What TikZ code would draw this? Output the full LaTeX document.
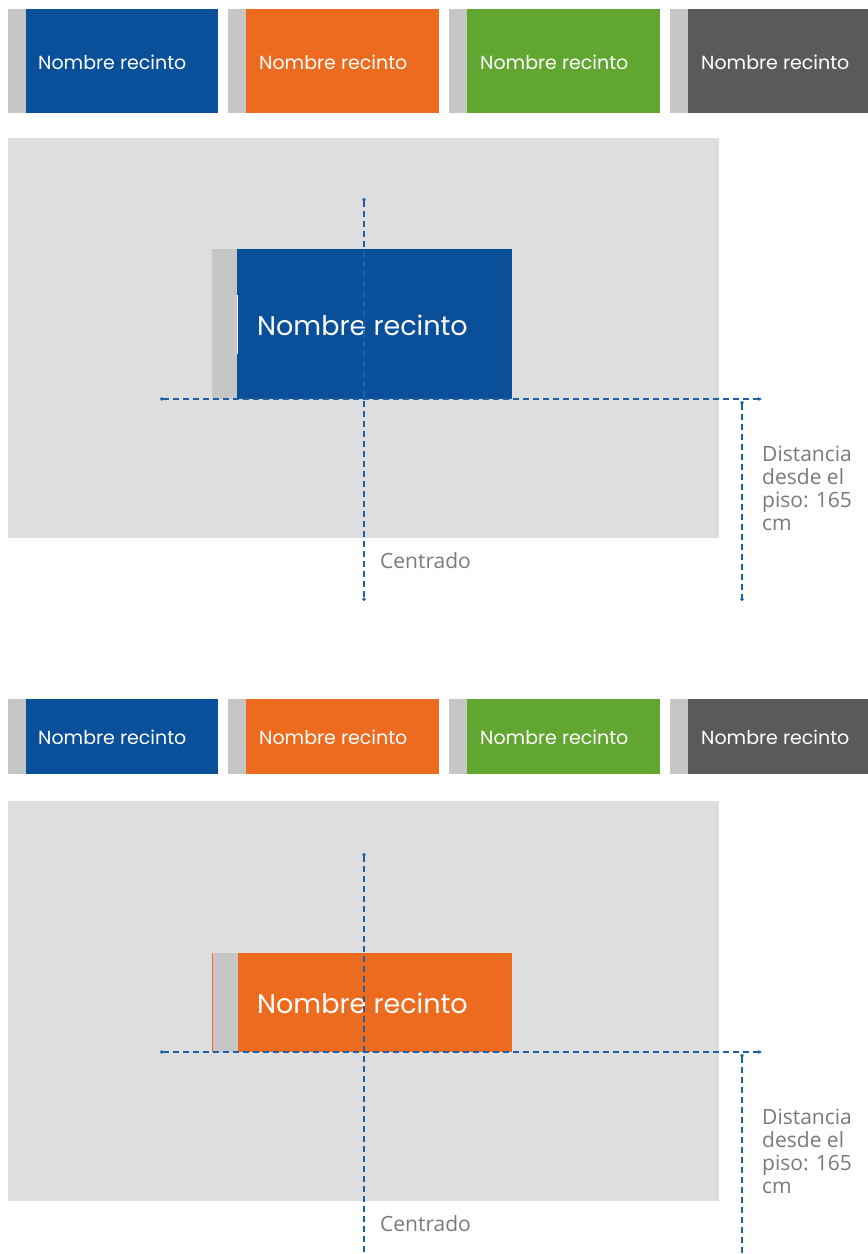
\documentclass[tikz,border=0pt]{standalone}
\usepackage{fontspec}
\setmainfont{Open Sans}
\newfontfamily\signfont{Poppins}
\usetikzlibrary{arrows.meta}
\definecolor{sblue}{HTML}{0A4F9A}
\definecolor{sorange}{HTML}{EC6B1F}
\definecolor{sgreen}{HTML}{62A632}
\definecolor{sdark}{HTML}{5A5A59}
\definecolor{stripgray}{HTML}{C6C6C6}
\definecolor{panelgray}{HTML}{DEDEDE}
\definecolor{guideblue}{HTML}{1F5FA8}
\definecolor{notegray}{HTML}{7A7A7A}
\tikzset{
  box/.style={draw=none, inner sep=0pt, outer sep=0pt, anchor=north west},
  strip/.style={box, fill=stripgray, minimum width=18pt},
  panel/.style={box, fill=panelgray, minimum width=711pt, minimum height=400pt},
  smalltext/.style={text=white, inner sep=0pt, anchor=west, font=\signfont\fontsize{19}{20}\selectfont},
  bigtext/.style={text=white, inner sep=0pt, anchor=west, font=\signfont\fontsize{27}{28}\selectfont},
  guide/.style={draw=guideblue, line width=1.1pt, dash pattern=on 6pt off 4pt},
  note/.style={text=notegray, inner sep=0pt, anchor=base west, align=left, font=\fontsize{21}{22.7}\selectfont},
}
\begin{document}
\begin{tikzpicture}[x=1pt,y=-1pt]
\useasboundingbox (0,0) rectangle (868,1254);
\fill[white] (0,0) rectangle (868,1254);

% ---------- top row 1 ----------
\node[strip, minimum height=104pt] (s1a) at (8,9) {};
\node[box, fill=sblue, minimum width=192pt, minimum height=104pt] (r1a) at (26,9) {};
\node[smalltext] (t1a) at (38,62) {Nombre recinto};
\node[strip, minimum height=104pt] (s1b) at (228,9) {};
\node[box, fill=sorange, minimum width=193pt, minimum height=104pt] (r1b) at (246,9) {};
\node[smalltext] (t1b) at (259,62) {Nombre recinto};
\node[strip, minimum height=104pt] (s1c) at (449,9) {};
\node[box, fill=sgreen, minimum width=193pt, minimum height=104pt] (r1c) at (467,9) {};
\node[smalltext] (t1c) at (480,62) {Nombre recinto};
\node[strip, minimum height=104pt] (s1d) at (670,9) {};
\node[box, fill=sdark, minimum width=180pt, minimum height=104pt] (r1d) at (688,9) {};
\node[smalltext] (t1d) at (701,62) {Nombre recinto};

% ---------- panel 1 ----------
\node[panel] (p1) at (8,138) {};
\node[box, fill=stripgray, minimum width=25pt, minimum height=150pt] (bs1) at (212,249) {};
\node[box, fill=sblue, minimum width=275pt, minimum height=150pt] (b1) at (237,249) {};
\fill[white] (236.5,295) rectangle (237.7,354);
\node[bigtext] (bt1) at (257,325) {Nombre recinto};

\coordinate (v1t) at (364,198);
\coordinate (v1b) at (364,601);
\coordinate (h1l) at (160,399);
\coordinate (h1r) at (762,399);
\coordinate (d1t) at (742,401);
\coordinate (d1b) at (742,601);
\draw[guide, {Circle[length=3.4pt]}-{Circle[length=3.4pt]}] (v1t) -- (v1b);
\draw[guide, {Circle[length=3.4pt]}-{Stealth[length=4pt,width=3.8pt]}] (h1l) -- (h1r);
\draw[guide, {Circle[length=3.4pt]}-{Circle[length=3.4pt]}] (d1t) -- (d1b);
\node[note] (n1) at (762,530) {Distancia\\desde el\\piso: 165\\cm};
\node[note] (c1) at (380,568) {Centrado};

% ---------- top row 2 ----------
\node[strip, minimum height=75pt] (s2a) at (8,699) {};
\node[box, fill=sblue, minimum width=192pt, minimum height=75pt] (r2a) at (26,699) {};
\node[smalltext] (t2a) at (38,737) {Nombre recinto};
\node[strip, minimum height=75pt] (s2b) at (228,699) {};
\node[box, fill=sorange, minimum width=193pt, minimum height=75pt] (r2b) at (246,699) {};
\node[smalltext] (t2b) at (259,737) {Nombre recinto};
\node[strip, minimum height=75pt] (s2c) at (449,699) {};
\node[box, fill=sgreen, minimum width=193pt, minimum height=75pt] (r2c) at (467,699) {};
\node[smalltext] (t2c) at (480,737) {Nombre recinto};
\node[strip, minimum height=75pt] (s2d) at (670,699) {};
\node[box, fill=sdark, minimum width=180pt, minimum height=75pt] (r2d) at (688,699) {};
\node[smalltext] (t2d) at (701,737) {Nombre recinto};

% ---------- panel 2 ----------
\node[panel] (p2) at (8,801) {};
\node[box, fill=sorange, minimum width=1.2pt, minimum height=99pt] (be2) at (212,953) {};
\node[box, fill=stripgray, minimum width=25pt, minimum height=99pt] (bs2) at (213,953) {};
\node[box, fill=sorange, minimum width=274pt, minimum height=99pt] (b2) at (238,953) {};
\node[bigtext] (bt2) at (257,1003) {Nombre recinto};

\coordinate (v2t) at (364,853);
\coordinate (v2b) at (364,1254);
\coordinate (h2l) at (160,1052);
\coordinate (h2r) at (762,1052);
\coordinate (d2t) at (742,1054);
\coordinate (d2b) at (742,1254);
\draw[guide, {Circle[length=3.4pt]}-] (v2t) -- (v2b);
\draw[guide, {Circle[length=3.4pt]}-{Stealth[length=4pt,width=3.8pt]}] (h2l) -- (h2r);
\draw[guide, {Circle[length=3.4pt]}-] (d2t) -- (d2b);
\node[note] (n2) at (762,1193) {Distancia\\desde el\\piso: 165\\cm};
\node[note] (c2) at (380,1231) {Centrado};
\end{tikzpicture}
\end{document}
